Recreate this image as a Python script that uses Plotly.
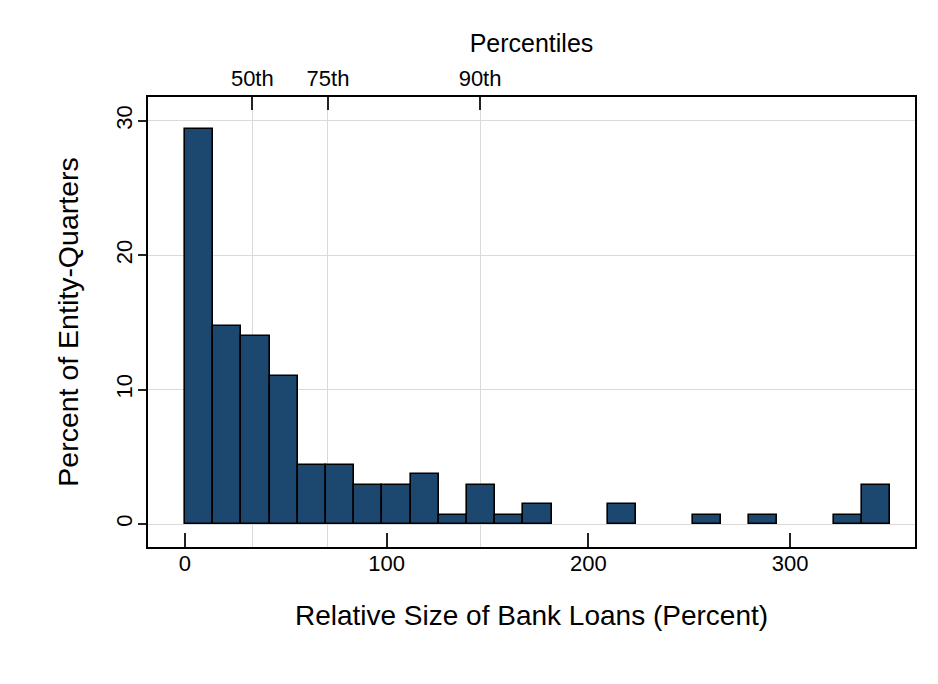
import plotly.graph_objects as go

# Histogram data (percent of entity-quarters per bin)
bin_start = 0.0
bin_width = 13.98
percent = [29.4, 14.7, 14.0, 11.0, 4.4, 4.4, 2.9, 2.9, 3.7, 0.7,
           2.9, 0.7, 1.5, 0.0, 0.0, 1.5, 0.0, 0.0, 0.7, 0.0,
           0.7, 0.0, 0.0, 0.7, 2.9]

# Percentile markers on the top axis
pct_values = [33.4, 70.9, 146.3]
pct_labels = ["50th", "75th", "90th"]

x_ticks = [0, 100, 200, 300]
y_ticks = [0, 10, 20, 30]

centers = [bin_start + bin_width * (i + 0.5) for i in range(len(percent))]
heights = [v if v > 0 else None for v in percent]  # empty bins draw nothing

FONT = "Liberation Sans, Arial, Helvetica, sans-serif"
fig = go.Figure()
fig.add_trace(go.Bar(
    x=centers, y=heights, width=[bin_width] * len(percent),
    marker=dict(color="#1C4870", line=dict(color="black", width=1.6)),
    showlegend=False,
))
# invisible trace on the top axis
fig.add_trace(go.Scatter(x=pct_values, y=[None] * 3, xaxis="x2", yaxis="y",
                         mode="markers", showlegend=False, hoverinfo="skip"))

xr = [-18.3, 361.9]
fig.update_layout(
    width=938, height=684,
    paper_bgcolor="white", plot_bgcolor="white",
    margin=dict(l=148, r=23, t=97, b=137),
    font=dict(family=FONT, color="black", size=22),
    bargap=0,
    xaxis=dict(
        range=xr, tickvals=x_ticks, showgrid=False, zeroline=False, automargin=False,
        showline=True, linecolor="black", linewidth=2, mirror=False,
        ticks="inside", ticklen=14, tickwidth=2, tickcolor="#222",
        tickfont=dict(size=22), ticklabelstandoff=-4,
        title=dict(text="Relative Size of Bank Loans (Percent)", font=dict(size=28), standoff=30),
    ),
    xaxis2=dict(
        range=xr, overlaying="x", side="top", tickvals=pct_values, ticktext=pct_labels,
        showgrid=True, gridcolor="#DADADA", gridwidth=1, zeroline=False, automargin=False,
        showline=True, linecolor="black", linewidth=2,
        ticks="inside", ticklen=13, tickwidth=2, tickcolor="#222",
        tickfont=dict(size=22),
        title=dict(text="Percentiles", font=dict(size=25), standoff=6),
    ),
    yaxis=dict(
        range=[-1.71, 31.77], tickvals=y_ticks, showgrid=True, gridcolor="#DADADA",
        gridwidth=1, zeroline=False, showline=True, linecolor="black", linewidth=2,
        mirror=True, ticks="outside", ticklen=8, tickwidth=2, tickcolor="#222",
        tickangle=-90, tickfont=dict(size=22), automargin=False, ticklabelstandoff=-3,
        title=dict(text="Percent of Entity-Quarters", font=dict(size=28.5), standoff=25),
    ),
)
fig.write_html("out.html", config={"displayModeBar": False},
               post_script="document.body.style.margin='0';")
